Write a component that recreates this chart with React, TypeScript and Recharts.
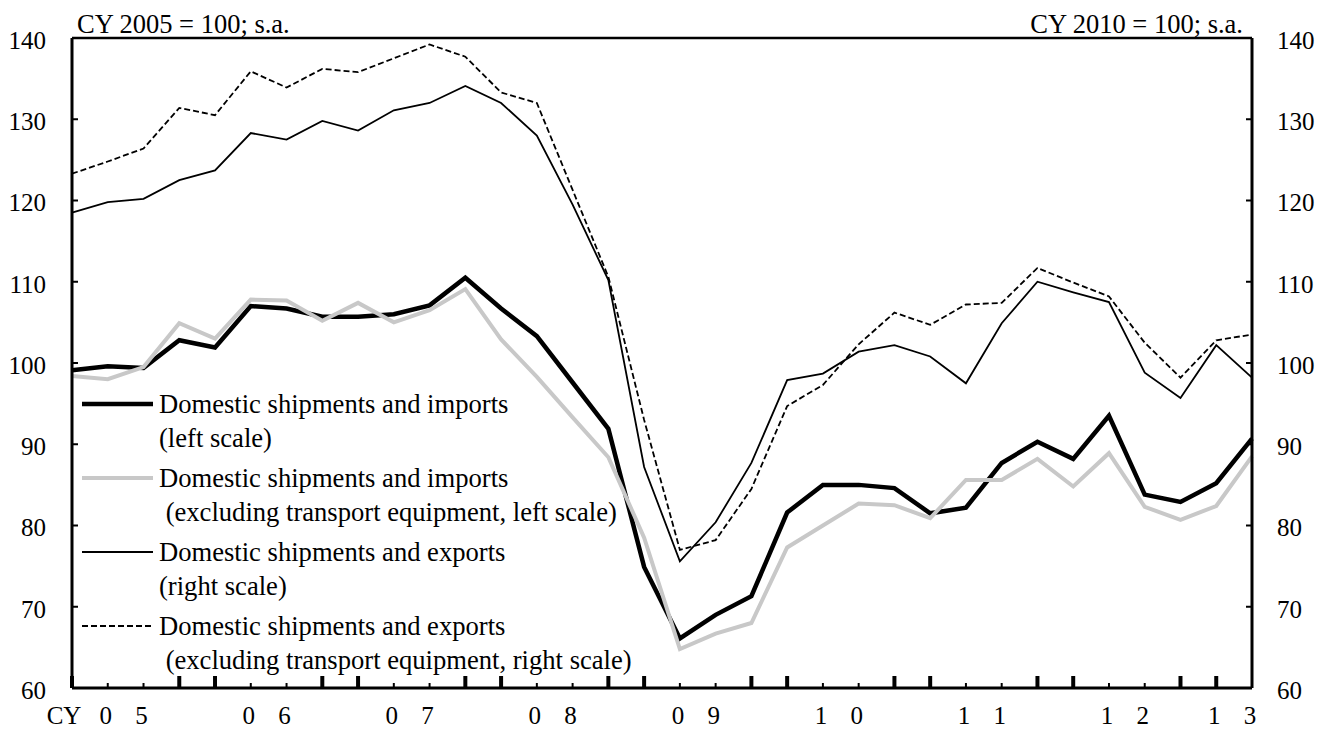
import { LineChart, Line, XAxis, YAxis, ReferenceLine, Legend } from 'recharts'

// quarterly, 2005 Q1 .. 2013 Q2
const quarters = [
  '05Q1', '05Q2', '05Q3', '05Q4', '06Q1', '06Q2', '06Q3', '06Q4',
  '07Q1', '07Q2', '07Q3', '07Q4', '08Q1', '08Q2', '08Q3', '08Q4',
  '09Q1', '09Q2', '09Q3', '09Q4', '10Q1', '10Q2', '10Q3', '10Q4',
  '11Q1', '11Q2', '11Q3', '11Q4', '12Q1', '12Q2', '12Q3', '12Q4',
  '13Q1', '13Q2',
]

// label text drawn under each quarter tick
const quarterLabels = [
  'CY', '0', '5', '', '', '0', '6', '',
  '', '0', '7', '', '', '0', '8', '',
  '', '0', '9', '', '', '1', '0', '',
  '', '1', '1', '', '', '1', '2', '',
  '1', '3',
]

const importsTotal = [
  99.1, 99.6, 99.4, 102.8, 101.9, 107.0, 106.7, 105.7,
  105.7, 106.0, 107.1, 110.5, 106.7, 103.3, 97.6, 91.9,
  74.9, 66.1, 69.0, 71.3, 81.6, 85.0, 85.0, 84.6,
  81.5, 82.2, 87.7, 90.3, 88.2, 93.5, 83.8, 82.9,
  85.2, 90.7,
]

const importsExTransport = [
  98.4, 98.0, 99.5, 104.9, 103.0, 107.8, 107.7, 105.2,
  107.4, 105.0, 106.5, 109.1, 102.9, 98.3, 93.3, 88.4,
  78.5, 64.8, 66.7, 68.0, 77.3, 80.0, 82.7, 82.5,
  80.9, 85.6, 85.6, 88.2, 84.8, 88.9, 82.3, 80.7,
  82.4, 88.5,
]

const exportsTotal = [
  118.5, 119.8, 120.2, 122.5, 123.7, 128.3, 127.5, 129.8,
  128.6, 131.1, 132.0, 134.1, 132.0, 128.0, 119.5, 110.2,
  87.2, 75.6, 80.4, 87.7, 97.9, 98.7, 101.4, 102.2,
  100.8, 97.5, 104.9, 110.0, 108.7, 107.5, 98.8, 95.7,
  102.2, 98.2,
]

const exportsExTransport = [
  123.3, 124.8, 126.4, 131.4, 130.5, 135.9, 133.9, 136.2,
  135.8, 137.5, 139.2, 137.7, 133.3, 132.0, 121.3, 110.6,
  93.0, 77.0, 78.2, 84.5, 94.7, 97.3, 102.3, 106.2,
  104.7, 107.2, 107.4, 111.7, 109.9, 108.2, 102.5, 98.2,
  102.8, 103.5,
]

const yTicks = [60, 70, 80, 90, 100, 110, 120, 130, 140]

const series = [
  { key: 'imp', axis: 'left', color: '#000000', width: 4.5, dash: undefined, line1: 'Domestic shipments and imports', line2: '(left scale)' },
  { key: 'impEx', axis: 'left', color: '#c8c8c8', width: 4, dash: undefined, line1: 'Domestic shipments and imports', line2: '\u00a0(excluding transport equipment, left scale)' },
  { key: 'exp', axis: 'right', color: '#000000', width: 1.8, dash: undefined, line1: 'Domestic shipments and exports', line2: '(right scale)' },
  { key: 'expEx', axis: 'right', color: '#000000', width: 1.8, dash: '6 3', line1: 'Domestic shipments and exports', line2: '\u00a0(excluding transport equipment, right scale)' },
]

const data = quarters.map((q, i) => ({
  i,
  q,
  imp: importsTotal[i],
  impEx: importsExTransport[i],
  exp: exportsTotal[i],
  expEx: exportsExTransport[i],
}))

const FONT = '"Liberation Serif", "Times New Roman", serif'

const XTick = (props: any) => {
  const { x, y, payload } = props
  const idx = payload.value
  const major = idx % 4 === 0 || idx % 4 === 3
  const label = quarterLabels[idx]
  return (
    <g>
      <line x1={x} x2={x} y1={y} y2={y - (major ? 12 : 5)} stroke="#000" strokeWidth={major ? 4 : 2} />
      {label && (
        <text x={x + (label === 'CY' ? -8 : -2)} y={y + 36} textAnchor="middle" fontSize={25} fontFamily={FONT} fill="#000">
          {label}
        </text>
      )}
    </g>
  )
}

const LeftTick = (props: any) => {
  const { x, y, payload } = props
  return (
    <g>
      <line x1={x} x2={x + 6} y1={y} y2={y} stroke="#000" strokeWidth={2} />
      <text x={x - 26} y={y + 2} dy="0.35em" textAnchor="end" fontSize={25} fontFamily={FONT} fill="#000">
        {payload.value}
      </text>
    </g>
  )
}

const RightTick = (props: any) => {
  const { x, y, payload } = props
  return (
    <g>
      <line x1={x - 6} x2={x} y1={y} y2={y} stroke="#000" strokeWidth={2} />
      <text x={x + 25} y={y + 2} dy="0.35em" textAnchor="start" fontSize={25} fontFamily={FONT} fill="#000">
        {payload.value}
      </text>
    </g>
  )
}

const Header = (props: any) => {
  const { viewBox, text, side } = props
  if (!viewBox) return null
  const x = side === 'left' ? viewBox.x + viewBox.width + 5 : viewBox.x - 9
  return (
    <text x={x} y={viewBox.y - 5} textAnchor={side === 'left' ? 'start' : 'end'} fontSize={26.5} fontFamily={FONT} fill="#000">
      {text}
    </text>
  )
}

const LegendBox = () => (
  <svg width={580} height={300} style={{ display: 'block' }}>
    {series.map((s, k) => {
      const cy = 19 + k * 74
      return (
        <g key={s.key}>
          <line x1={2} x2={73} y1={cy} y2={cy} stroke={s.color} strokeWidth={s.width} strokeDasharray={s.dash} />
          <text x={79} y={cy} dy="0.35em" fontSize={26.6} fontFamily={FONT} fill="#000">{s.line1}</text>
          <text x={79} y={cy + 34} dy="0.35em" fontSize={26.6} fontFamily={FONT} fill="#000">{s.line2}</text>
        </g>
      )
    })}
  </svg>
)

export default function App() {
  return (
    <div style={{ position: 'absolute', left: 0, top: 0, width: 1320, height: 731, background: '#fff' }}>
      <LineChart width={1320} height={731} data={data} margin={{ top: 38, right: 0, bottom: 0, left: 0 }}>
        <XAxis
          dataKey="i"
          type="number"
          domain={[0, quarters.length - 1]}
          ticks={quarters.map((_, i) => i)}
          interval={0}
          height={43}
          tickSize={0}
          tickMargin={0}
          tickLine={false}
          tick={<XTick />}
          axisLine={{ stroke: '#000', strokeWidth: 3 }}
        />
        <YAxis
          yAxisId="left"
          orientation="left"
          width={72}
          domain={[60, 140]}
          ticks={yTicks}
          interval={0}
          tickSize={0}
          tickMargin={0}
          tickLine={false}
          tick={<LeftTick />}
          axisLine={{ stroke: '#000', strokeWidth: 3 }}
          label={<Header text="CY 2005 = 100; s.a." side="left" />}
        />
        <YAxis
          yAxisId="right"
          orientation="right"
          width={68}
          domain={[60, 140]}
          ticks={yTicks}
          interval={0}
          tickSize={0}
          tickMargin={0}
          tickLine={false}
          tick={<RightTick />}
          axisLine={{ stroke: '#000', strokeWidth: 3 }}
          label={<Header text="CY 2010 = 100; s.a." side="right" />}
        />
        <ReferenceLine yAxisId="left" y={140} stroke="#000" strokeWidth={2.5} />
        <Legend
          content={<LegendBox />}
          layout="vertical"
          align="center"
          verticalAlign="middle"
          wrapperStyle={{ position: 'absolute', left: 80, top: 385, width: 580, height: 300 }}
        />
        {series.map((s) => (
          <Line
            key={s.key}
            yAxisId={s.axis}
            dataKey={s.key}
            type="linear"
            stroke={s.color}
            strokeWidth={s.width}
            strokeDasharray={s.dash}
            dot={false}
            activeDot={false}
            isAnimationActive={false}
          />
        ))}
      </LineChart>
    </div>
  )
}
